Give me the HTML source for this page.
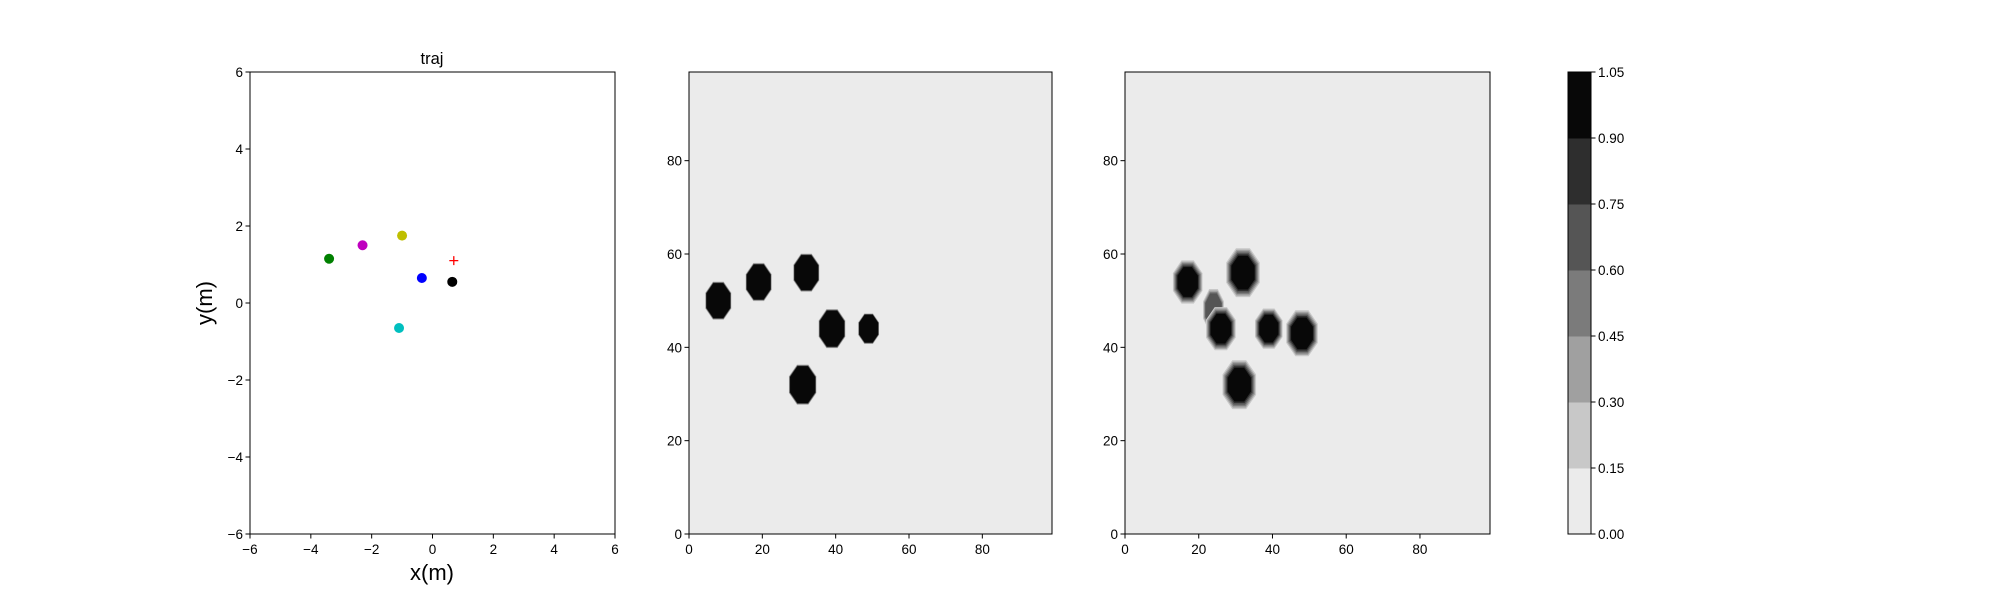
<!DOCTYPE html>
<html><head><meta charset="utf-8"><style>
body{margin:0;background:#fff;}
svg text{font-family:"Liberation Sans",sans-serif;fill:#000;}
</style></head><body>
<svg id="fig" width="2000" height="600" viewBox="0 0 2000 600" xmlns="http://www.w3.org/2000/svg">
<rect width="2000" height="600" fill="#fff"/>
<g id="g1"></g>
<g id="g2"></g>
<g id="g3"></g>
<g id="gc"></g>
</svg>
<script>
const trajX = [-3.4, -2.3, -1.0, -0.35, 0.65, -1.1];
const trajY = [1.15, 1.5, 1.75, 0.65, 0.55, -0.65];
const trajColors = ['#008000', '#bf00bf', '#bfbf00', '#0000ff', '#000000', '#00bfbf'];
const goalX = [0.7];
const goalY = [1.1];
const trajTicks = [-6, -4, -2, 0, 2, 4, 6];
const mapXTicks = [0, 20, 40, 60, 80];
const mapYTicks = [0, 20, 40, 60, 80];
// blobs: center x, center y, radius, peak level (0..6)
const map1X = [8, 19, 32, 39, 49, 31];
const map1Y = [50, 54, 56, 44, 44, 32];
const map1R = [3.5, 3.5, 3.5, 3.6, 2.8, 3.7];
const map1L = [6, 6, 6, 6, 6, 6];
const map2X = [17, 32, 24, 26, 39, 48, 31];
const map2Y = [54, 56, 48, 44, 44, 43, 32];
const map2R = [3.0, 3.4, 2.4, 3.0, 2.8, 3.2, 3.4];
const map2L = [6, 6, 4, 6, 6, 6, 6];
const cbLevels = [0, 0.15, 0.30, 0.45, 0.60, 0.75, 0.90, 1.05];
const cbColors = ['#ebebeb', '#c8c8c8', '#a0a0a0', '#7b7b7b', '#555555', '#2e2e2e', '#080808'];

const NS = 'http://www.w3.org/2000/svg';
function mk(tag, attrs, parent, txt){const e=document.createElementNS(NS,tag);for(const k in attrs)e.setAttribute(k,attrs[k]);if(txt!==undefined)e.textContent=txt;parent.appendChild(e);return e;}
const TOP=72, BOT=534;

function axes(g, x0, x1, xmin, xmax, ymin, ymax, xt, yt, bg){
  const sx=v=>x0+(v-xmin)/(xmax-xmin)*(x1-x0);
  const sy=v=>BOT-(v-ymin)/(ymax-ymin)*(BOT-TOP);
  const r=mk('rect',{x:x0,y:TOP,width:x1-x0,height:BOT-TOP,fill:bg},g);
  
  
  return {sx,sy,draw:()=>{
    const f=mk('rect',{x:x0,y:TOP,width:x1-x0,height:BOT-TOP,fill:'none',stroke:'#000','stroke-width':1},g);
    
    
    xt.forEach(v=>{const X=sx(v);mk('line',{x1:X,x2:X,y1:BOT,y2:BOT+4.5,stroke:'#000'},g);
      const t=mk('text',{x:X,y:BOT+20,'font-size':13.5,'text-anchor':'middle'},g,v<0?'−'+(-v):v);
      
      });
    yt.forEach(v=>{const Y=sy(v);mk('line',{x1:x0-4.5,x2:x0,y1:Y,y2:Y,stroke:'#000'},g);
      const t=mk('text',{x:x0-7,y:Y+5,'font-size':13.5,'text-anchor':'end'},g,v<0?'−'+(-v):v);
      
      });
  }};
}

// traj panel
const g1=document.getElementById('g1');
const a1=axes(g1,250,615,-6,6,-6,6,trajTicks,trajTicks,'#fff');
trajX.forEach((x,i)=>{const c=mk('circle',{cx:a1.sx(x),cy:a1.sy(trajY[i]),r:5,fill:trajColors[i]},g1);
  
  });
goalX.forEach((x,i)=>{const X=a1.sx(x),Y=a1.sy(goalY[i]);
  const p=mk('path',{d:`M${X-4.5} ${Y}H${X+4.5}M${X} ${Y-4.5}V${Y+4.5}`,stroke:'#ff0000','stroke-width':1.3},g1);
  
  });
a1.draw();
let t=mk('text',{x:432,y:64,'font-size':16.5,'text-anchor':'middle'},g1,'traj');


t=mk('text',{x:432,y:580,'font-size':22,'text-anchor':'middle'},g1,'x(m)');


t=mk('text',{x:212,y:303,'font-size':22,'text-anchor':'middle',transform:'rotate(-90 212 303)'},g1,'y(m)');



function octagon(cx,cy,rx,ry){
  const pts=[];for(let k=0;k<8;k++){const a=(k+0.5)*Math.PI/4;pts.push((cx+rx*Math.cos(a)).toFixed(1)+','+(cy+ry*Math.sin(a)).toFixed(1));}
  return pts.join(' ');
}
function drawMap(id,x0,x1,X,Y,R,L,soft){
  const g=document.getElementById(id);
  const a=axes(g,x0,x1,0,99,0,99,mapXTicks,mapYTicks,cbColors[0]);
  const pxx=(x1-x0)/99, pxy=(BOT-TOP)/99;
  X.forEach((x,i)=>{
    const bg=mk('g',{},g);
    
    
    const tall = (soft && L[i]<6) ? 1.6 : 1.15;
    for(let lv=1;lv<=L[i];lv++){
      let r=R[i];
      if(soft){r=R[i]*(1+ (L[i]-lv)*0.09);} else {r=R[i]*(1+(L[i]-lv)*0.02);}
      mk('polygon',{points:octagon(a.sx(x),a.sy(Y[i]),r*pxx,r*pxy*tall),fill:cbColors[lv]},bg);
    }
  });
  a.draw();
}
drawMap('g2',689,1052,map1X,map1Y,map1R,map1L,false);
drawMap('g3',1125,1490,map2X,map2Y,map2R,map2L,true);

// colorbar
const gc=document.getElementById('gc');
const cx0=1568,cx1=1591;
const cy=v=>BOT-(v-cbLevels[0])/(cbLevels[cbLevels.length-1]-cbLevels[0])*(BOT-TOP);
cbColors.forEach((c,i)=>{const r=mk('rect',{x:cx0,y:cy(cbLevels[i+1]),width:cx1-cx0,height:cy(cbLevels[i])-cy(cbLevels[i+1])+0.5,fill:c},gc);
  
  });
mk('rect',{x:cx0,y:TOP,width:cx1-cx0,height:BOT-TOP,fill:'none',stroke:'#000'},gc);
cbLevels.forEach(v=>{const Y=cy(v);mk('line',{x1:cx1,x2:cx1+4.5,y1:Y,y2:Y,stroke:'#000'},gc);
  const tt=mk('text',{x:cx1+7,y:Y+5,'font-size':13.5},gc,v.toFixed(2));
  
  });
</script>
</body></html>
